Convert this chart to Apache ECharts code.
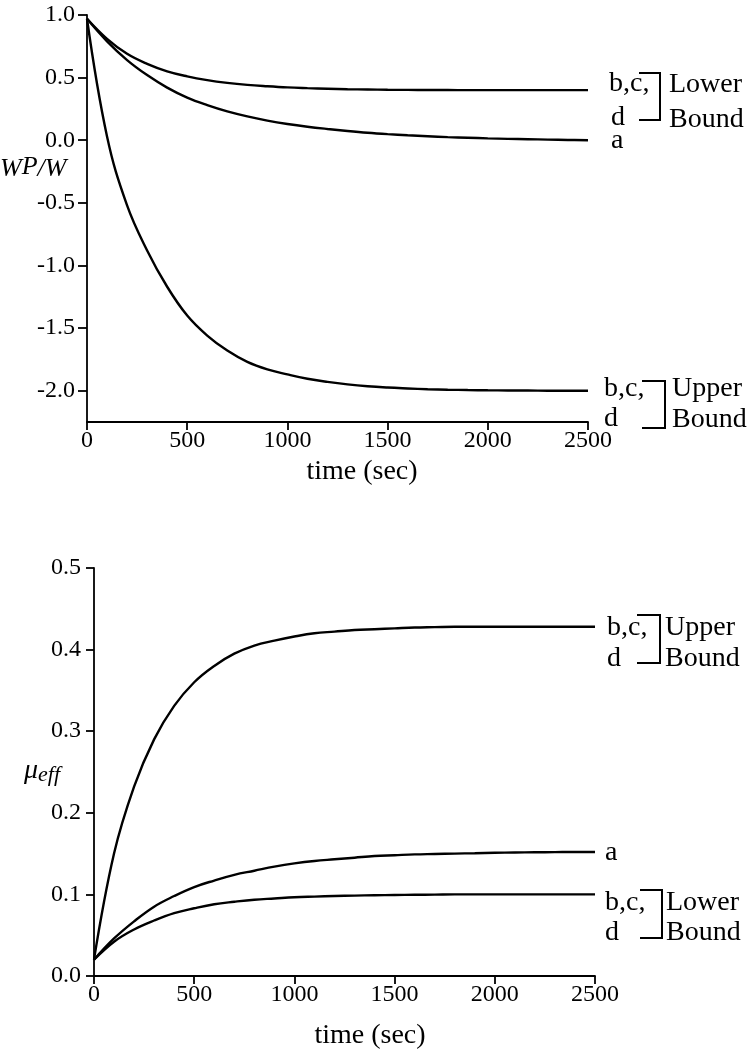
<!DOCTYPE html>
<html>
<head>
<meta charset="utf-8">
<script src="https://cdn.jsdelivr.net/npm/echarts@6/dist/echarts.min.js"></script>
<style>html,body{margin:0;padding:0;background:#fff}#c{width:749px;height:1050px}</style>
</head>
<body>
<div id="c"></div>
<script>
// ---- data ----
const topTime = [0,100,200,300,400,500,600,700,800,900,1000,1100,1200,1300,1400,1500,1600,1700,1800,1900,2000,2100,2200,2300,2400,2500];
const topLowerBCD = [0.97,0.81,0.69,0.61,0.55,0.51,0.48,0.458,0.442,0.431,0.422,0.416,0.411,0.407,0.405,0.403,0.402,0.401,0.401,0.400,0.400,0.400,0.400,0.400,0.400,0.400];
const topA = [0.97,0.79,0.64,0.52,0.42,0.34,0.28,0.23,0.19,0.157,0.13,0.108,0.09,0.074,0.06,0.049,0.04,0.032,0.025,0.02,0.015,0.011,0.008,0.005,0.002,0.0];
const topUpperBCD = [0.97,0.03,-0.52,-0.88,-1.17,-1.40,-1.56,-1.68,-1.77,-1.83,-1.87,-1.905,-1.93,-1.95,-1.965,-1.975,-1.982,-1.988,-1.992,-1.995,-1.997,-1.998,-1.999,-2.0,-2.0,-2.0];
const topYTicks = [-2.0,-1.5,-1.0,-0.5,0.0,0.5,1.0];

const botTime = [0,100,200,300,400,500,600,700,800,900,1000,1100,1200,1300,1400,1500,1600,1700,1800,1900,2000,2100,2200,2300,2400,2500];
const botUpperBCD = [0.02,0.15,0.232,0.29,0.331,0.36,0.38,0.395,0.405,0.411,0.416,0.42,0.422,0.424,0.425,0.426,0.427,0.4275,0.428,0.428,0.428,0.428,0.428,0.428,0.428,0.428];
const botA = [0.02,0.046,0.067,0.085,0.098,0.109,0.117,0.124,0.129,0.134,0.138,0.141,0.143,0.145,0.147,0.148,0.149,0.1495,0.150,0.1505,0.151,0.1513,0.1516,0.1518,0.152,0.152];
const botLowerBCD = [0.02,0.042,0.057,0.068,0.077,0.083,0.088,0.091,0.0935,0.095,0.0965,0.0973,0.098,0.0985,0.099,0.0993,0.0995,0.0997,0.1,0.1,0.1,0.1,0.1,0.1,0.1,0.1];

// ---- chart ----
const FF = '"Liberation Serif", "DejaVu Serif", serif';
const zip = (xs, ys) => xs.map((x, i) => [x, ys[i]]);
const chart = echarts.init(document.getElementById('c'), null, {renderer: 'canvas'});

function xAxisCfg(gi) {
  return {
    type: 'value', gridIndex: gi, min: 0, max: 2500, interval: 500,
    axisLine: {onZero: false, lineStyle: {color: '#000', width: 1.8}},
    axisTick: {show: true, length: 8, lineStyle: {color: '#000', width: 1.8}},
    axisLabel: {color: '#000', fontFamily: FF, fontSize: 24, margin: 7, formatter: v => String(v)},
    splitLine: {show: false}
  };
}
const lineStyle = {color: '#000', width: 2.4};
function ser(xi, yi, data) {
  return {type: 'line', xAxisIndex: xi, yAxisIndex: yi, data: data, smooth: 0.4,
    showSymbol: false, symbol: 'none', lineStyle: lineStyle, silent: true, animation: false};
}
function txt(x, y, t, size, align) {
  return {type: 'text', x: x, y: y, silent: true,
    style: {text: t, fontFamily: FF, fontSize: size || 28, fill: '#000', align: align || 'left', verticalAlign: 'middle'}};
}
function bracket(x1, x2, y1, y2) {
  return {type: 'polyline', silent: true,
    shape: {points: [[x1, y1], [x2, y1], [x2, y2], [x1, y2]]},
    style: {stroke: '#000', lineWidth: 2, fill: null}};
}

const option = {
  animation: false,
  backgroundColor: '#fff',
  textStyle: {fontFamily: FF},
  grid: [
    {left: 87, right: 161, top: 15, bottom: 628},
    {left: 94, right: 154, top: 568, bottom: 74}
  ],
  xAxis: [xAxisCfg(0), xAxisCfg(1)],
  yAxis: [
    {
      type: 'value', gridIndex: 0, min: -2.25, max: 1.0,
      axisLine: {show: true, lineStyle: {color: '#000', width: 1.8}},
      axisTick: {show: true, length: 9, customValues: topYTicks, lineStyle: {color: '#000', width: 1.8}},
      axisLabel: {color: '#000', fontFamily: FF, fontSize: 24, margin: 12, customValues: topYTicks,
        formatter: v => (Math.abs(v) < 1e-9 ? 0 : v).toFixed(1)},
      splitLine: {show: false}
    },
    {
      type: 'value', gridIndex: 1, min: 0, max: 0.5, interval: 0.1,
      axisLine: {show: true, lineStyle: {color: '#000', width: 1.8}},
      axisTick: {show: true, length: 8, lineStyle: {color: '#000', width: 1.8}},
      axisLabel: {color: '#000', fontFamily: FF, fontSize: 24, margin: 13, formatter: v => v.toFixed(1)},
      splitLine: {show: false}
    }
  ],
  series: [
    ser(0, 0, zip(topTime, topLowerBCD)),
    ser(0, 0, zip(topTime, topA)),
    ser(0, 0, zip(topTime, topUpperBCD)),
    ser(1, 1, zip(botTime, botUpperBCD)),
    ser(1, 1, zip(botTime, botA)),
    ser(1, 1, zip(botTime, botLowerBCD))
  ],
  graphic: [
    // axis names
    txt(362, 472, 'time (sec)', 28, 'center'),
    txt(370, 1036, 'time (sec)', 28, 'center'),
    {type: 'text', x: 0, y: 169, silent: true,
      style: {text: '{w|W}{p|P}{w|/W}', verticalAlign: 'middle', align: 'left',
        rich: {
          w: {fontFamily: FF, fontSize: 26, fontStyle: 'italic', fill: '#000'},
          p: {fontFamily: FF, fontSize: 26, fontStyle: 'italic', fill: '#000', padding: [0, 0, 4, 0]}
        }}},
    {type: 'text', x: 24, y: 775, silent: true,
      style: {text: '{m|μ}{s|eff}', verticalAlign: 'middle', align: 'left',
        rich: {
          m: {fontFamily: FF, fontSize: 28, fontStyle: 'italic', fill: '#000', padding: [0, 0, 9, 0]},
          s: {fontFamily: FF, fontSize: 22, fontStyle: 'italic', fill: '#000'}
        }}},
    // top chart annotations
    txt(609, 84, 'b,c,'), txt(611, 118, 'd'), txt(611, 141, 'a'),
    bracket(639, 660, 73, 120),
    txt(669, 85, 'Lower'), txt(669, 120, 'Bound'),
    txt(604, 389, 'b,c,'), txt(604, 419, 'd'),
    bracket(642, 665, 381, 428),
    txt(672, 389, 'Upper'), txt(672, 420, 'Bound'),
    // bottom chart annotations
    txt(607, 628, 'b,c,'), txt(607, 659, 'd'),
    bracket(637, 660, 615, 663),
    txt(665, 628, 'Upper'), txt(665, 659, 'Bound'),
    txt(605, 853, 'a'),
    txt(605, 903, 'b,c,'), txt(605, 933, 'd'),
    bracket(640, 662, 890, 938),
    txt(666, 903, 'Lower'), txt(666, 933, 'Bound')
  ]
};
chart.setOption(option);
</script>
</body>
</html>
